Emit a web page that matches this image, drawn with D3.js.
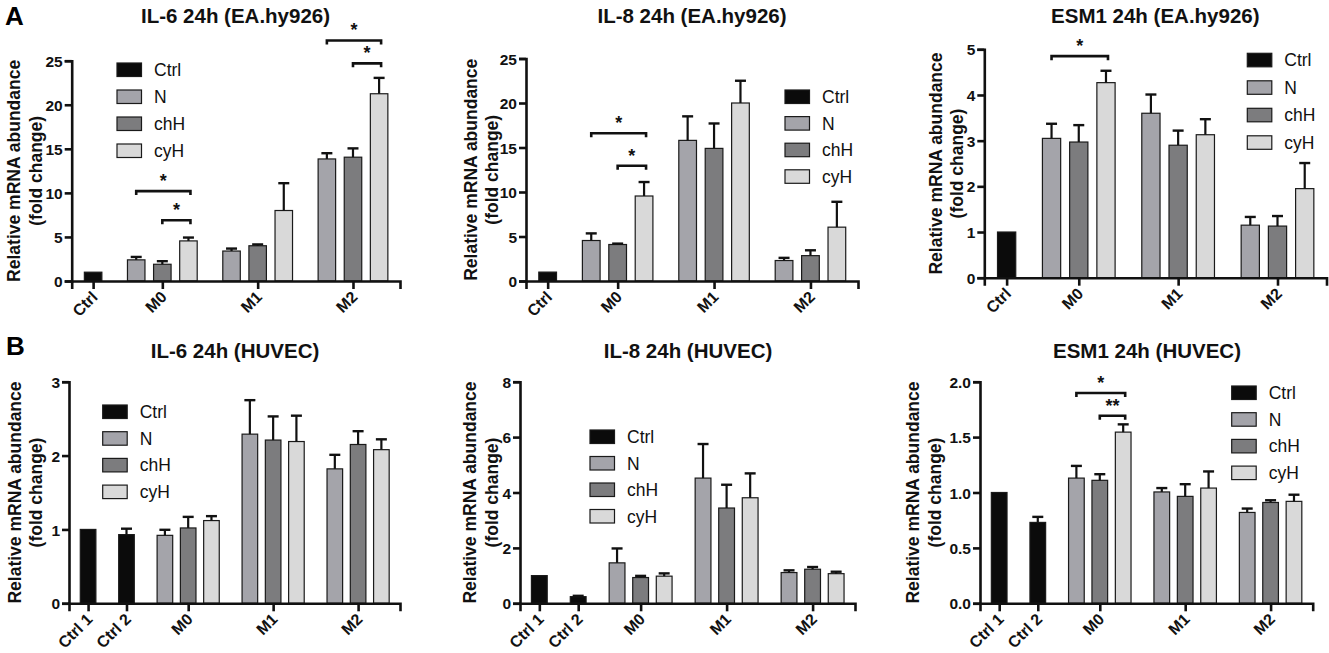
<!DOCTYPE html>
<html>
<head>
<meta charset="utf-8">
<script src="https://cdn.jsdelivr.net/npm/d3@7"></script>
<style>
  html, body { margin: 0; padding: 0; background: #fff; }
  svg { display: block; font-family: "Liberation Sans", Arial, Helvetica, sans-serif; }
</style>
</head>
<body>
<svg id="chart" width="1329" height="653"></svg>
<script>
// ---------------- DATA ----------------
const conditions = ["Ctrl", "N", "chH", "cyH"];
const treatGroups = ["M0", "M1", "M2"];
const eaCtrlLabels = ["Ctrl"];
const huvecCtrlLabels = ["Ctrl 1", "Ctrl 2"];
const titles = ["IL-6 24h (EA.hy926)", "IL-8 24h (EA.hy926)", "ESM1  24h (EA.hy926)",
                "IL-6 24h (HUVEC)", "IL-8 24h (HUVEC)", "ESM1 24h (HUVEC)"];
const panelLetters = ["A", "B"];
const yLabelLines = ["Relative mRNA abundance", "(fold change)"];

// IL-6 EA.hy926  (values for M0, M1, M2)
const il6EA_ctrl = [1.0],  il6EA_ctrlErr = [0];
const il6EA_N   = [2.4, 3.4, 13.85],  il6EA_NErr   = [0.33, 0.28, 0.65];
const il6EA_chH = [1.9, 4.0, 14.05],  il6EA_chHErr = [0.35, 0.15, 1.0];
const il6EA_cyH = [4.55, 8.0, 21.25], il6EA_cyHErr = [0.38, 3.1, 1.8];
const il6EA_ticks = [0, 5, 10, 15, 20, 25];
const il6EA_sig = [
  {group: "M0", from: "N", to: "cyH", level: 10.2, label: "*"},
  {group: "M0", from: "chH", to: "cyH", level: 6.9, label: "*"},
  {group: "M2", from: "N", to: "cyH", level: 27.3, label: "*"},
  {group: "M2", from: "chH", to: "cyH", level: 24.7, label: "*"}
];

// IL-8 EA.hy926
const il8EA_ctrl = [1.0],  il8EA_ctrlErr = [0];
const il8EA_N   = [4.55, 15.8, 2.3],  il8EA_NErr   = [0.8, 2.7, 0.3];
const il8EA_chH = [4.1, 14.9, 2.85],  il8EA_chHErr = [0.1, 2.8, 0.6];
const il8EA_cyH = [9.55, 20.0, 6.05], il8EA_cyHErr = [1.57, 2.5, 2.85];
const il8EA_ticks = [0, 5, 10, 15, 20, 25];
const il8EA_sig = [
  {group: "M0", from: "N", to: "cyH", level: 16.6, label: "*"},
  {group: "M0", from: "chH", to: "cyH", level: 12.95, label: "*"}
];

// ESM1 EA.hy926
const esmEA_ctrl = [1.0],  esmEA_ctrlErr = [0];
const esmEA_N   = [3.05, 3.6, 1.15],  esmEA_NErr   = [0.32, 0.41, 0.18];
const esmEA_chH = [2.97, 2.9, 1.13],  esmEA_chHErr = [0.37, 0.32, 0.22];
const esmEA_cyH = [4.27, 3.13, 1.95], esmEA_cyHErr = [0.26, 0.34, 0.56];
const esmEA_ticks = [0, 1, 2, 3, 4, 5];
const esmEA_sig = [
  {group: "M0", from: "N", to: "cyH", level: 4.85, label: "*"}
];

// IL-6 HUVEC
const il6HU_ctrl = [1.0, 0.93],  il6HU_ctrlErr = [0, 0.08];
const il6HU_N   = [0.92, 2.29, 1.82], il6HU_NErr   = [0.075, 0.46, 0.19];
const il6HU_chH = [1.02, 2.21, 2.15], il6HU_chHErr = [0.15, 0.32, 0.18];
const il6HU_cyH = [1.12, 2.19, 2.08], il6HU_cyHErr = [0.06, 0.35, 0.14];
const il6HU_ticks = [0, 1, 2, 3];
const il6HU_sig = [];

// IL-8 HUVEC
const il8HU_ctrl = [1.0, 0.24],  il8HU_ctrlErr = [0, 0.03];
const il8HU_N   = [1.46, 4.52, 1.11], il8HU_NErr   = [0.52, 1.23, 0.08];
const il8HU_chH = [0.93, 3.44, 1.23], il8HU_chHErr = [0.06, 0.84, 0.08];
const il8HU_cyH = [0.98, 3.81, 1.07], il8HU_cyHErr = [0.1, 0.88, 0.07];
const il8HU_ticks = [0, 2, 4, 6, 8];
const il8HU_sig = [];

// ESM1 HUVEC
const esmHU_ctrl = [1.0, 0.73],  esmHU_ctrlErr = [0, 0.05];
const esmHU_N   = [1.13, 1.005, 0.82], esmHU_NErr   = [0.11, 0.035, 0.035];
const esmHU_chH = [1.11, 0.965, 0.91], esmHU_chHErr = [0.055, 0.11, 0.02];
const esmHU_cyH = [1.545, 1.04, 0.92], esmHU_cyHErr = [0.07, 0.15, 0.06];
const esmHU_ticks = [0, 0.5, 1.0, 1.5, 2.0];
const esmHU_sig = [
  {group: "M0", from: "N", to: "cyH", level: 1.898, label: "*"},
  {group: "M0", from: "chH", to: "cyH", level: 1.693, label: "**"}
];

// ---------------- STYLE / LAYOUT ----------------
const colors = {Ctrl: "#0b0b0b", N: "#a4a4aa", chH: "#7c7c7e", cyH: "#d9d9d9"};
const GAP = 1.65;         // slot distance between groups
const BAR_FRAC = 0.67;    // bar width as fraction of slot step

const panels = [
  {title: 0, ctrlLabels: eaCtrlLabels, ctrl: il6EA_ctrl, ctrlErr: il6EA_ctrlErr,
   N: il6EA_N, NErr: il6EA_NErr, chH: il6EA_chH, chHErr: il6EA_chHErr, cyH: il6EA_cyH, cyHErr: il6EA_cyHErr,
   ticks: il6EA_ticks, sig: il6EA_sig, fmt: "d",
   L: {ax: 71.7, ae: 400, yt: 60.7, yb: 281, lx: 117, ly: 63, ls: 27, ylx: 20, tx: 235.5, ty: 23}},
  {title: 1, ctrlLabels: eaCtrlLabels, ctrl: il8EA_ctrl, ctrlErr: il8EA_ctrlErr,
   N: il8EA_N, NErr: il8EA_NErr, chH: il8EA_chH, chHErr: il8EA_chHErr, cyH: il8EA_cyH, cyHErr: il8EA_cyHErr,
   ticks: il8EA_ticks, sig: il8EA_sig, fmt: "d",
   L: {ax: 526, ae: 858, yt: 58.5, yb: 281, lx: 785, ly: 90, ls: 26.6, ylx: 476.5, tx: 692, ty: 23}},
  {title: 2, ctrlLabels: eaCtrlLabels, ctrl: esmEA_ctrl, ctrlErr: esmEA_ctrlErr,
   N: esmEA_N, NErr: esmEA_NErr, chH: esmEA_chH, chHErr: esmEA_chHErr, cyH: esmEA_cyH, cyHErr: esmEA_cyHErr,
   ticks: esmEA_ticks, sig: esmEA_sig, fmt: "d",
   L: {ax: 984.3, ae: 1326.5, yt: 49.3, yb: 277.7, lx: 1247.3, ly: 53.3, ls: 27.5, ylx: 941.5, tx: 1155.3, ty: 23}},
  {title: 3, ctrlLabels: huvecCtrlLabels, ctrl: il6HU_ctrl, ctrlErr: il6HU_ctrlErr,
   N: il6HU_N, NErr: il6HU_NErr, chH: il6HU_chH, chHErr: il6HU_chHErr, cyH: il6HU_cyH, cyHErr: il6HU_cyHErr,
   ticks: il6HU_ticks, sig: il6HU_sig, fmt: "d",
   L: {ax: 69, ae: 400, yt: 381.7, yb: 603.3, lx: 102.7, ly: 405, ls: 26.7, ylx: 20.5, tx: 235, ty: 358}},
  {title: 4, ctrlLabels: huvecCtrlLabels, ctrl: il8HU_ctrl, ctrlErr: il8HU_ctrlErr,
   N: il8HU_N, NErr: il8HU_NErr, chH: il8HU_chH, chHErr: il8HU_chHErr, cyH: il8HU_cyH, cyHErr: il8HU_cyHErr,
   ticks: il8HU_ticks, sig: il8HU_sig, fmt: "d",
   L: {ax: 520, ae: 855, yt: 381.7, yb: 603.3, lx: 590, ly: 430, ls: 26.5, ylx: 476, tx: 688, ty: 358}},
  {title: 5, ctrlLabels: huvecCtrlLabels, ctrl: esmHU_ctrl, ctrlErr: esmHU_ctrlErr,
   N: esmHU_N, NErr: esmHU_NErr, chH: esmHU_chH, chHErr: esmHU_chHErr, cyH: esmHU_cyH, cyHErr: esmHU_cyHErr,
   ticks: esmHU_ticks, sig: esmHU_sig, fmt: ".1f",
   L: {ax: 980, ae: 1312.7, yt: 381.7, yb: 603.3, lx: 1231.7, ly: 386, ls: 26.7, ylx: 919.3, tx: 1147, ty: 358}}
];

const svg = d3.select("#chart");
const FONT_BOLD = 700;

// Panel letters
svg.append("text").attr("x", 5).attr("y", 25).attr("font-size", 26).attr("font-weight", FONT_BOLD).text(panelLetters[0]);
svg.append("text").attr("x", 6).attr("y", 355).attr("font-size", 26).attr("font-weight", FONT_BOLD).text(panelLetters[1]);

panels.forEach(p => {
  const L = p.L;
  // build bar records with slot positions
  const bars = [];
  const xTicks = [];
  let s = 0;
  p.ctrlLabels.forEach((lab, i) => {
    bars.push({group: lab, cond: "Ctrl", slot: s, v: p.ctrl[i], e: p.ctrlErr[i]});
    xTicks.push({slot: s, label: lab});
    s += GAP;
  });
  treatGroups.forEach((g, gi) => {
    ["N", "chH", "cyH"].forEach((c, ci) => {
      bars.push({group: g, cond: c, slot: s + ci, v: p[c][gi], e: p[c + "Err"][gi]});
    });
    xTicks.push({slot: s + 1, label: g});
    s += 2 + GAP;
  });
  const lastSlot = s - GAP;

  const x = d3.scaleLinear().domain([-0.82, lastSlot + 0.8]).range([L.ax, L.ae]);
  const y = d3.scaleLinear().domain([0, d3.max(p.ticks)]).range([L.yb, L.yt]);
  const step = x(1) - x(0);
  const bw = step * BAR_FRAC;

  const g = svg.append("g");

  // bars
  g.selectAll("rect.bar").data(bars).enter().append("rect")
    .attr("class", "bar")
    .attr("x", d => x(d.slot) - bw / 2)
    .attr("width", bw)
    .attr("y", d => y(d.v))
    .attr("height", d => y(0) - y(d.v))
    .attr("fill", d => colors[d.cond])
    .attr("stroke", "#1a1a1a")
    .attr("stroke-width", 1.2);

  // error bars (upper only)
  const eb = bars.filter(d => d.e > 0);
  g.selectAll("line.err").data(eb).enter().append("line")
    .attr("x1", d => x(d.slot)).attr("x2", d => x(d.slot))
    .attr("y1", d => y(d.v)).attr("y2", d => y(d.v + d.e))
    .attr("stroke", "#111").attr("stroke-width", 2.2);
  g.selectAll("line.cap").data(eb).enter().append("line")
    .attr("x1", d => x(d.slot) - 5.5).attr("x2", d => x(d.slot) + 5.5)
    .attr("y1", d => y(d.v + d.e)).attr("y2", d => y(d.v + d.e))
    .attr("stroke", "#111").attr("stroke-width", 2.4);

  // axes
  const yAxis = d3.axisLeft(y).tickValues(p.ticks).tickFormat(d3.format(p.fmt))
    .tickSizeOuter(0).tickSize(7).tickPadding(2);
  const ya = g.append("g").attr("transform", `translate(${L.ax},0)`).call(yAxis);
  const xAxis = d3.axisBottom(x).tickValues(xTicks.map(t => t.slot))
    .tickFormat((d, i) => xTicks[i].label).tickSizeOuter(0).tickSize(8);
  const xa = g.append("g").attr("transform", `translate(0,${L.yb})`).call(xAxis);
  [ya, xa].forEach(a => {
    a.select(".domain").attr("stroke", "#111").attr("stroke-width", 2.6);
    a.selectAll(".tick line").attr("stroke", "#111").attr("stroke-width", 2.6);
    a.selectAll("text").attr("font-family", "Liberation Sans, Arial, sans-serif")
      .attr("font-weight", FONT_BOLD).attr("fill", "#111");
  });
  ya.selectAll("text").attr("font-size", 15.5).attr("dy", "0.36em");
  xa.selectAll("text").attr("font-size", 16)
    .attr("x", 0).attr("y", 0).attr("dy", null)
    .attr("text-anchor", "end")
    .attr("transform", "translate(5,17) rotate(-45)");

  // y label
  yLabelLines.forEach((t, i) => {
    const cx = L.ylx + i * 21.5, cy = (L.yt + L.yb) / 2;
    g.append("text").attr("transform", `translate(${cx},${cy}) rotate(-90)`)
      .attr("text-anchor", "middle").attr("font-size", 17.5).attr("font-weight", FONT_BOLD)
      .attr("fill", "#111").text(t);
  });

  // title
  g.append("text").attr("x", L.tx).attr("y", L.ty).attr("text-anchor", "middle")
    .attr("font-size", 20.5).attr("font-weight", FONT_BOLD).attr("fill", "#111")
    .text(titles[p.title]);

  // legend
  const lg = g.append("g");
  conditions.forEach((c, i) => {
    const yy = L.ly + i * L.ls;
    lg.append("rect").attr("x", L.lx).attr("y", yy).attr("width", 24.5).attr("height", 13.5)
      .attr("fill", colors[c]).attr("stroke", "#1a1a1a").attr("stroke-width", 1.2);
    lg.append("text").attr("x", L.lx + 37).attr("y", yy + 13).attr("font-size", 17.5)
      .attr("fill", "#111").text(c);
  });

  // significance brackets
  const slotOf = (grp, cond) => bars.find(b => b.group === grp && b.cond === cond).slot;
  p.sig.forEach(sg => {
    const x1 = x(slotOf(sg.group, sg.from)), x2 = x(slotOf(sg.group, sg.to)) + 2;
    const yy = y(sg.level);
    g.append("path").attr("d", `M${x1},${yy + 4}V${yy}H${x2}V${yy + 4}`)
      .attr("fill", "none").attr("stroke", "#111").attr("stroke-width", 2.6);
    g.append("text").attr("x", (x1 + x2) / 2).attr("y", yy - 4).attr("text-anchor", "middle")
      .attr("font-size", 18).attr("font-weight", FONT_BOLD).attr("fill", "#111").text(sg.label);
  });
});
</script>
</body>
</html>
